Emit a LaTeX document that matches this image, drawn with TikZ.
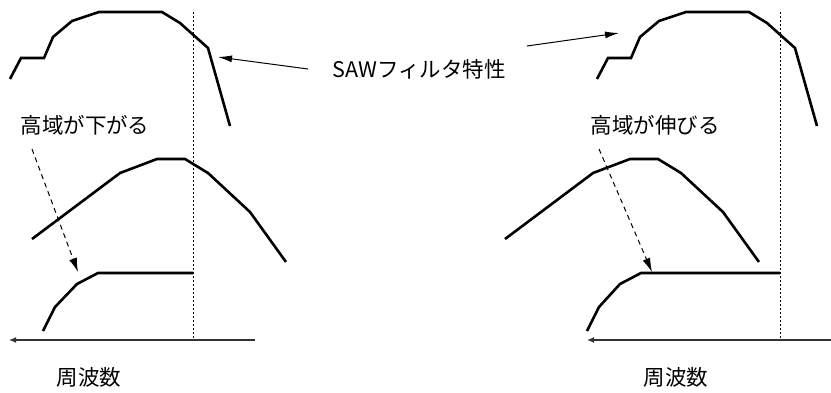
\documentclass[tikz,border=0pt]{standalone}
\usepackage{fontspec}
\setmainfont{Noto Sans CJK JP}
\usetikzlibrary{arrows.meta}
\begin{document}
\begin{tikzpicture}[x=1pt,y=-1pt,
  curve/.style={line width=2.6pt, line join=miter},
  guide/.style={line width=1pt, dash pattern=on 2pt off 2pt},
  axisline/.style={line width=1.2pt, draw=black!80, -{Latex[length=7pt,width=6pt]}},
  lbl/.style={font=\fontsize{21.5}{25}\selectfont, inner sep=0pt},
  pointer/.style={line width=1pt, -{Latex[length=14pt,width=7pt]}},
  dpointer/.style={line width=1pt, dash pattern=on 5pt off 4pt, -{Latex[length=14pt,width=8pt]}}]
\useasboundingbox (0,0) rectangle (831,392);

% labels
\node[lbl] (saw) at (419,69) {SAWフィルタ特性};
\node[lbl] (down) at (85,125) {高域が下がる};
\node[lbl] (up) at (655,125) {高域が伸びる};
\node[lbl] (freqL) at (89,377) {周波数};
\node[lbl] (freqR) at (676,377) {周波数};

% named connector ends
\coordinate (sawL) at (308,69);
\coordinate (sawR) at (527,46);
\coordinate (tipL) at (218,57);
\coordinate (tipR) at (619,33);
\coordinate (dsL) at (32,149);
\coordinate (deL) at (78,272);
\coordinate (dsR) at (599,149);
\coordinate (deR) at (652,272);
\coordinate (axL0) at (255,340);
\coordinate (axL1) at (9,340);
\coordinate (axR0) at (831,340);
\coordinate (axR1) at (587,340);

% dotted reference lines
\draw[guide] (193,12) -- (193,340);
\draw[guide] (780,12) -- (780,340);

% SAW filter characteristics (top)
\draw[curve] (10,79)--(21,58)--(44,58)--(53,37)--(72,21)--(99,12)--(162,12)--(180,23)--(208,48)--(230,126);
\draw[curve] (597,79)--(608,58)--(631,58)--(640,37)--(659,21)--(686,12)--(749,12)--(767,23)--(795,48)--(817,126);

% middle curves
\draw[curve] (32,239)--(120,173)--(157,159)--(185,159)--(208,173)--(250,212)--(286,262);
\draw[curve] (505,239)--(593,173)--(630,159)--(658,159)--(681,173)--(723,212)--(759,262);

% bottom curves
\draw[curve] (43,331)--(55,307)--(77,284)--(98,273)--(193,273);
\draw[curve] (587,331)--(599,307)--(620,284)--(641,273)--(780,273);

% axes
\draw[axisline] (axL0) -- (axL1);
\draw[axisline] (axR0) -- (axR1);

% pointers
\draw[pointer] (sawL) -- (tipL);
\draw[pointer] (sawR) -- (tipR);
\draw[dpointer] (dsL) -- (deL);
\draw[dpointer] (dsR) -- (deR);
\end{tikzpicture}
\end{document}
